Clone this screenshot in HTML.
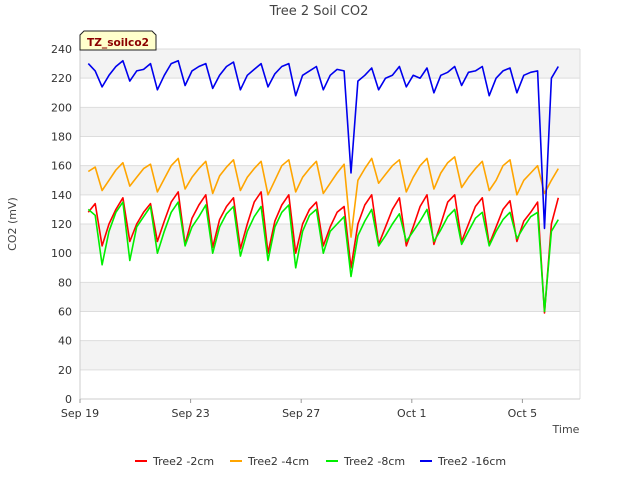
<!DOCTYPE html>
<html><head><meta charset="utf-8"><style>
body{margin:0;background:#fff;font-family:"Liberation Sans","DejaVu Sans",sans-serif;}
svg text{font-family:"DejaVu Sans","Liberation Sans",sans-serif;}
</style></head><body>
<svg id="chart" width="640" height="480" xmlns="http://www.w3.org/2000/svg">
<rect width="640" height="480" fill="#fff"/>
<text x="319" y="15" text-anchor="middle" font-size="13" fill="#444">Tree 2 Soil CO2</text>
<g id="bands"></g>
<g id="yaxis"></g>
<g id="xaxis"></g>
<g id="series"></g>
<text x="16" y="224" transform="rotate(-90 16 224)" text-anchor="middle" font-size="11" fill="#444">CO2 (mV)</text>
<text x="566" y="433" text-anchor="middle" font-size="11" fill="#444">Time</text>
<g>
<path d="M80,50 L80,35 L84,31 L152,31 L156,35 L156,50 Z" fill="#ffffcc" stroke="#222" stroke-width="1"/>
<text x="87" y="46" textLength="62" lengthAdjust="spacingAndGlyphs" font-size="10.5" font-weight="bold" fill="#8b0000">TZ_soilco2</text>
</g>
<g id="legend"></g>
</svg>
<script>
const yTicks=[0,20,40,60,80,100,120,140,160,180,200,220,240];
const xTickDays=[0,4,8,12,16];
const xTickLabels=["Sep 19","Sep 23","Sep 27","Oct 1","Oct 5"];
const seriesNames=["Tree2 -2cm","Tree2 -4cm","Tree2 -8cm","Tree2 -16cm"];
const seriesColors=["#ff0000","#ffa500","#00ee00","#0000ee"];
const tStart=0.3, tStep=0.25;
const red=[128,134,105,120,130,138,108,120,128,134,108,122,135,142,106,124,133,140,104,123,132,138,103,120,135,142,100,122,133,140,100,120,130,135,105,118,128,132,90,120,133,140,106,118,130,138,105,118,132,140,106,120,135,140,108,120,132,138,106,118,130,136,108,122,128,135,59,120,138];
const orange=[156,159,143,150,157,162,146,152,158,161,142,151,160,165,144,152,158,163,141,153,159,164,143,152,158,163,140,150,160,164,142,152,158,163,141,148,155,161,111,150,158,165,148,154,160,164,142,152,160,165,144,155,162,166,145,152,158,163,143,150,160,164,140,150,155,160,141,150,158];
const green=[130,126,92,115,128,135,95,118,125,132,100,115,128,135,105,118,125,133,100,118,127,132,98,115,125,132,95,118,128,133,90,115,126,130,100,115,120,125,84,112,122,130,105,112,120,127,108,115,122,130,108,116,125,130,106,115,124,128,105,115,123,128,110,118,125,128,60,115,123];
const blue=[230,225,214,222,228,232,218,225,226,230,212,222,230,232,215,225,228,230,213,222,228,231,212,222,226,230,214,223,228,230,208,222,225,228,212,222,226,225,155,218,222,227,212,220,222,228,214,222,220,227,210,222,224,228,215,224,225,228,208,220,225,227,210,222,224,225,117,220,228];
const allSeries=[red,orange,green,blue];
const X0=80,X1=580,Y0=399,Y1=49,pxPerDay=27.65;
const xs=t=>X0+t*pxPerDay;
const ys=v=>Y0-(v/240)*(Y0-Y1);
const NS="http://www.w3.org/2000/svg";
function mk(tag,attrs,parent){const e=document.createElementNS(NS,tag);for(const k in attrs)e.setAttribute(k,attrs[k]);parent.appendChild(e);return e;}
const bands=document.getElementById('bands');
for(let i=0;i<yTicks.length-1;i++){
  const v0=yTicks[i],v1=yTicks[i+1];
  const r=mk('rect',{x:X0,y:ys(v1),width:X1-X0,height:ys(v0)-ys(v1),fill:(i%2===1)?'#f3f3f3':'#ffffff'},bands);
  
  
}
const yaxis=document.getElementById('yaxis');
yTicks.forEach(v=>{
  const l=mk('line',{x1:X0,x2:X1,y1:ys(v),y2:ys(v),stroke:'#dddddd','stroke-width':1},yaxis);
  
  
  const t=mk('text',{x:72,y:ys(v)+4,'text-anchor':'end','font-size':11,fill:'#333'},yaxis);
  t.textContent=v;
  
  
});
mk('line',{x1:X0,x2:X0,y1:Y1,y2:Y0,stroke:'#ccc'},yaxis);
mk('line',{x1:X1,x2:X1,y1:Y1,y2:Y0,stroke:'#ddd'},yaxis);
const xaxis=document.getElementById('xaxis');
mk('line',{x1:X0,x2:X1,y1:Y0,y2:Y0,stroke:'#ccc'},xaxis);
xTickDays.forEach((d,i)=>{
  mk('line',{x1:xs(d),x2:xs(d),y1:Y0,y2:Y0+4,stroke:'#999'},xaxis);
  const t=mk('text',{x:xs(d),y:417,'text-anchor':'middle','font-size':11,fill:'#333'},xaxis);
  t.textContent=xTickLabels[i];
  
  
});
const sg=document.getElementById('series');
allSeries.forEach((arr,si)=>{
  const pts=arr.map((v,i)=>xs(tStart+i*tStep).toFixed(1)+','+ys(v).toFixed(1)).join(' ');
  const p=mk('polyline',{points:pts,fill:'none',stroke:seriesColors[si],'stroke-width':1.6,'stroke-linejoin':'round'},sg);
  
  
});
const lg=document.getElementById('legend');
const lx=[135,230,326,420];
seriesNames.forEach((n,i)=>{
  const l=mk('line',{x1:lx[i],x2:lx[i]+12,y1:461,y2:461,stroke:seriesColors[i],'stroke-width':2},lg);
  
  
  const t=mk('text',{x:lx[i]+18,y:465,'font-size':11,fill:'#333'},lg);
  t.textContent=n;
  
  
});
</script>
</body></html>
